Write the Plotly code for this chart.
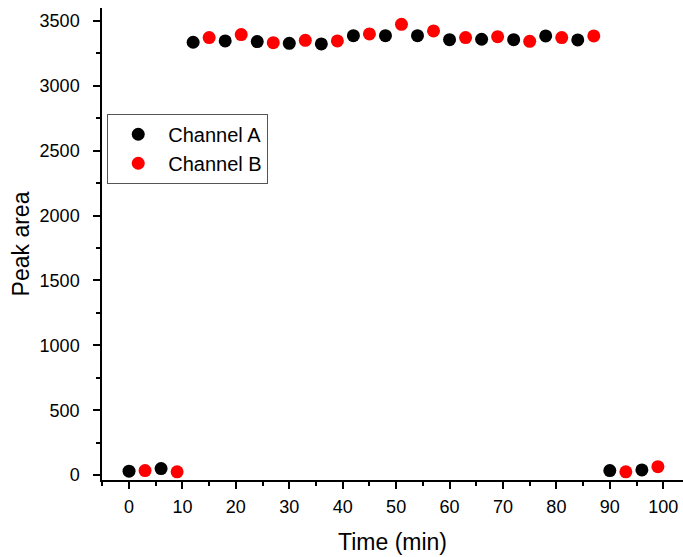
import plotly.graph_objects as go

time_a = [0, 6, 12, 18, 24, 30, 36, 42, 48, 54, 60, 66, 72, 78, 84, 90, 96]
area_a = [30, 50, 3336, 3346, 3341, 3328, 3323, 3387, 3387, 3387, 3356, 3359, 3356, 3385, 3354, 35, 40]
time_b = [3, 9, 15, 21, 27, 33, 39, 45, 51, 57, 63, 69, 75, 81, 87, 93, 99]
area_b = [35, 25, 3372, 3395, 3333, 3351, 3346, 3400, 3474, 3423, 3372, 3379, 3343, 3372, 3385, 25, 65]

x_ticks = [0, 10, 20, 30, 40, 50, 60, 70, 80, 90, 100]
y_ticks = [0, 500, 1000, 1500, 2000, 2500, 3000, 3500]

FONT = "Liberation Sans, Arial, sans-serif"

fig = go.Figure()
fig.add_trace(go.Scatter(x=time_a, y=area_a, mode="markers", name="Channel A",
                         marker=dict(color="black", size=13)))
fig.add_trace(go.Scatter(x=time_b, y=area_b, mode="markers", name="Channel B",
                         marker=dict(color="red", size=13)))

axis_common = dict(showgrid=False, zeroline=False, showline=True, linecolor="black",
                   linewidth=1.5, ticks="outside", ticklen=7, tickwidth=1.5,
                   tickcolor="black", tickfont=dict(family=FONT, size=18, color="black"))

fig.update_layout(
    width=683, height=557,
    margin=dict(l=102, r=0, t=8, b=77),
    plot_bgcolor="white", paper_bgcolor="white",
    xaxis=dict(range=[-5.06, 103.7], tickvals=x_ticks, ticklabelstandoff=3,
               minor=dict(dtick=5, tick0=0, ticks="outside", ticklen=4, tickwidth=1.5, tickcolor="black"),
               title=dict(text="Time (min)", font=dict(family=FONT, size=23, color="black"), standoff=18),
               **axis_common),
    yaxis=dict(range=[-38, 3600], tickvals=y_ticks, ticklabelstandoff=10,
               minor=dict(dtick=250, tick0=0, ticks="outside", ticklen=4, tickwidth=1.5, tickcolor="black"),
               title=dict(text="Peak area", font=dict(family=FONT, size=23, color="black"), standoff=4),
               **axis_common),
    legend=dict(x=0.009, y=0.776, xanchor="left", yanchor="top",
                bordercolor="#555555", borderwidth=1, bgcolor="white",
                font=dict(family=FONT, size=20, color="black"),
                tracegroupgap=0, itemwidth=50),
    showlegend=True,
)

fig.write_html("out.html")
